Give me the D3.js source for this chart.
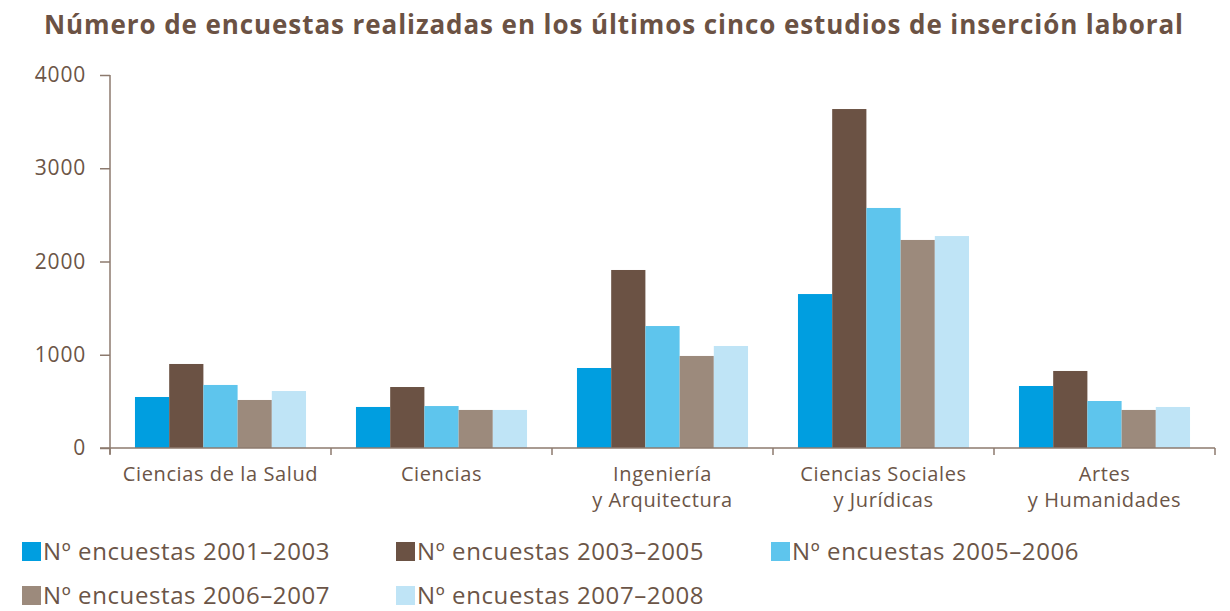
<!DOCTYPE html>
<html>
<head>
<meta charset="utf-8">
<script src="https://cdn.jsdelivr.net/npm/d3@7"></script>
<style>
  body { margin: 0; background: #fff; }
  text { font-family: "Open Sans", sans-serif; fill: #6b5547; }
</style>
</head>
<body>
<div id="chart"></div>
<script>
const width = 1230;
const height = 611;
const margin = { top: 75, right: 15, bottom: 163, left: 110 };

// Data
const categories = ["Ciencias de la Salud", "Ciencias", "Ingeniería\ny Arquitectura", "Ciencias Sociales\ny Jurídicas", "Artes\ny Humanidades"];
const seriesNames = ["Nº encuestas 2001–2003", "Nº encuestas 2003–2005", "Nº encuestas 2005–2006", "Nº encuestas 2006–2007", "Nº encuestas 2007–2008"];
const s2001 = [547, 440, 858, 1651, 665];
const s2003 = [901, 654, 1909, 3635, 826];
const s2005 = [676, 450, 1308, 2574, 504];
const s2006 = [515, 408, 987, 2231, 408];
const s2007 = [611, 408, 1094, 2273, 440];
const yTicks = [0, 1000, 2000, 3000, 4000];

const seriesValues = [s2001, s2003, s2005, s2006, s2007];
const colors = ["#009ee0", "#6b5244", "#5ec5ed", "#9c8a7c", "#bfe4f6"];
const axisColor = "#8c7a6e";

const svg = d3.select("#chart")
    .append("svg")
    .attr("width", width)
    .attr("height", height);

// Title
svg.append("text")
    .attr("x", 44)
    .attr("y", 34)
    .attr("textLength", 1139)
    .attr("lengthAdjust", "spacing")
    .style("font-size", "26px")
    .style("font-weight", "700")
    .style("fill", "#6b5244")
    .text("Número de encuestas realizadas en los últimos cinco estudios de inserción laboral");

// Scales
const x0 = d3.scaleBand()
    .domain(categories)
    .range([margin.left, width - margin.right])
    .paddingInner(0)
    .paddingOuter(0);

const x1 = d3.scaleBand()
    .domain(d3.range(seriesNames.length))
    .range([0, x0.bandwidth()])
    .paddingInner(0)
    .paddingOuter(0.73);

const y = d3.scaleLinear()
    .domain([0, 4000])
    .range([height - margin.bottom, margin.top]);

// Bars
const groups = svg.selectAll(".group")
    .data(categories)
    .join("g")
    .attr("class", "group")
    .attr("transform", d => `translate(${x0(d)},0)`);

groups.selectAll("rect")
    .data((d, i) => seriesValues.map((s, k) => ({ k: k, v: s[i] })))
    .join("rect")
    .attr("x", d => x1(d.k))
    .attr("width", x1.bandwidth())
    .attr("y", d => y(d.v))
    .attr("height", d => y(0) - y(d.v))
    .attr("fill", d => colors[d.k]);

// Y axis
const yAxis = svg.append("g")
    .attr("transform", `translate(${margin.left},0)`)
    .call(d3.axisLeft(y).tickValues(yTicks).tickFormat(d3.format("d"))
        .tickSize(10).tickSizeOuter(0).tickPadding(14));
yAxis.select(".domain").remove();
yAxis.selectAll(".tick line").attr("stroke", axisColor).attr("stroke-width", 1.5);
yAxis.selectAll(".tick text")
    .style("font-size", "21px")
    .style("letter-spacing", "0.8px")
    .style("font-family", "'Open Sans', sans-serif")
    .attr("fill", "#6b5547");

svg.append("line")
    .attr("x1", margin.left).attr("x2", margin.left)
    .attr("y1", y(4000)).attr("y2", y(0) + 6)
    .attr("stroke", axisColor).attr("stroke-width", 1.5);

// X axis
svg.append("line")
    .attr("x1", margin.left - 10).attr("x2", width - margin.right)
    .attr("y1", y(0)).attr("y2", y(0))
    .attr("stroke", axisColor).attr("stroke-width", 1.5);

const edges = categories.map(c => x0(c)).concat([x0.range()[1]]);
svg.selectAll(".xtick")
    .data(edges)
    .join("line")
    .attr("class", "xtick")
    .attr("x1", d => d).attr("x2", d => d)
    .attr("y1", y(0)).attr("y2", y(0) + 7)
    .attr("stroke", axisColor).attr("stroke-width", 1.5);

const catLabels = svg.selectAll(".cat")
    .data(categories)
    .join("text")
    .attr("class", "cat")
    .attr("text-anchor", "middle")
    .style("font-size", "20px")
    .style("letter-spacing", "0.6px");

catLabels.selectAll("tspan")
    .data(d => d.split("\n").map(t => ({ t: t, c: d })))
    .join("tspan")
    .attr("x", d => x0(d.c) + x0.bandwidth() / 2)
    .attr("y", (d, i) => 481 + i * 26)
    .text(d => d.t);

// Legend
const legendPos = [[22, 542], [396, 542], [771, 542], [22, 586], [396, 586]];
const legend = svg.selectAll(".legend")
    .data(seriesNames)
    .join("g")
    .attr("class", "legend")
    .attr("transform", (d, i) => `translate(${legendPos[i][0]},${legendPos[i][1]})`);

legend.append("rect")
    .attr("x", 0).attr("y", 0)
    .attr("width", 19).attr("height", 19)
    .attr("fill", (d, i) => colors[i]);

legend.append("text")
    .attr("x", 21)
    .attr("y", 18)
    .style("font-size", "24px")
    .style("letter-spacing", "0.6px")
    .text(d => d);
</script>
</body>
</html>
